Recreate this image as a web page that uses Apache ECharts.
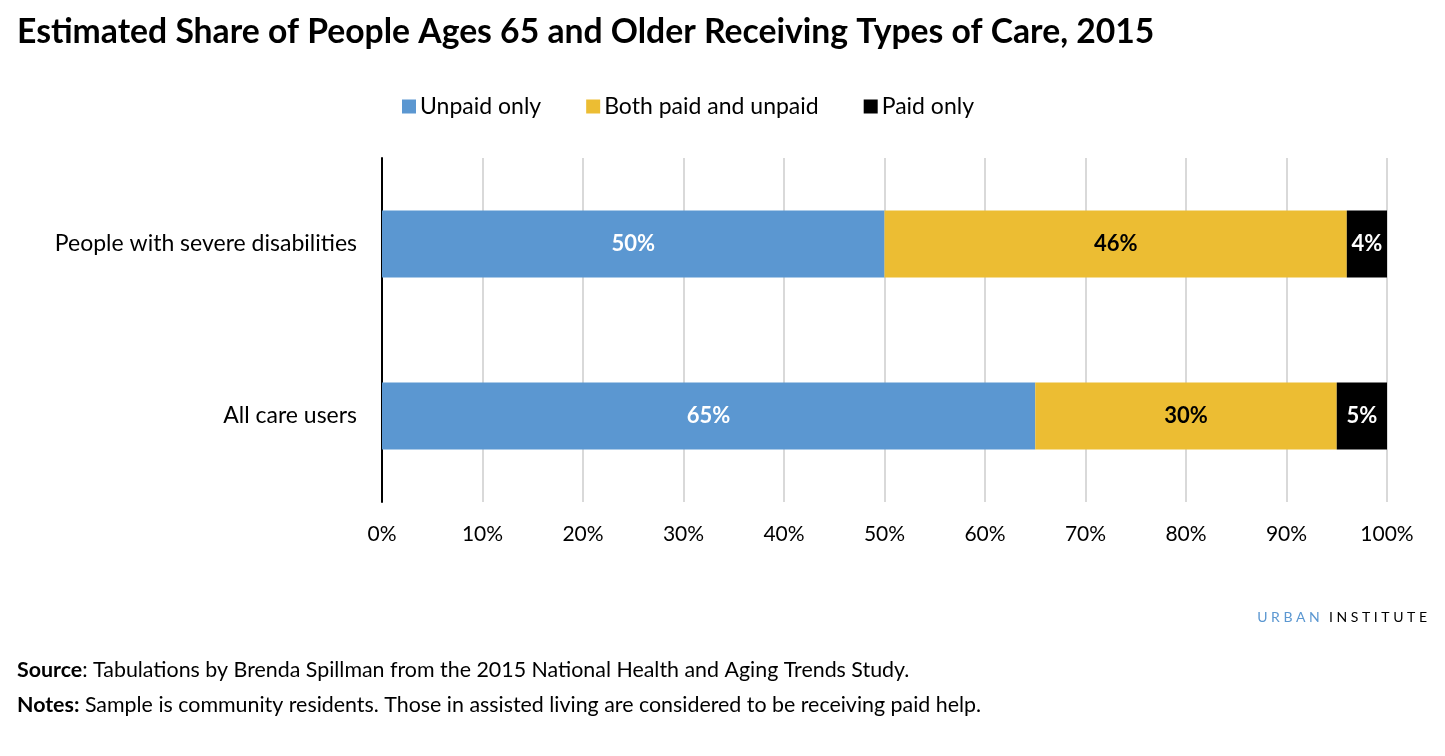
<!DOCTYPE html>
<html>
<head>
<meta charset="utf-8">
<script src="https://cdn.jsdelivr.net/npm/echarts@6/dist/echarts.min.js"></script>
<style>html,body{margin:0;padding:0;background:#fff;}#chart{width:1445px;height:756px;}</style>
</head>
<body>
<div id="chart"></div>
<script>
const categories = ['All care users', 'People with severe disabilities'];
const unpaidOnly = [65, 50];
const bothPaidUnpaid = [30, 46];
const paidOnly = [5, 4];
const seriesNames = ['Unpaid only', 'Both paid and unpaid', 'Paid only'];

const FONT = 'Lato';
const chart = echarts.init(document.getElementById('chart'));

function labelCfg(color) {
  return {
    show: true, position: 'inside', color: color, fontFamily: FONT,
    fontWeight: 'bold', fontSize: 22, formatter: p => p.value + '%'
  };
}

const footStyle = {
  fontSize: 21.4, color: '#000', fontFamily: FONT, fontWeight: 'normal',
  rich: { b: { fontWeight: 'bold', fontSize: 21.4, fontFamily: FONT, color: '#000' } }
};

chart.setOption({
  animation: false,
  textStyle: { fontFamily: FONT },
  title: [
    { text: 'Estimated Share of People Ages 65 and Older Receiving Types of Care, 2015',
      left: 17, top: 15, padding: 0,
      textStyle: { fontFamily: FONT, fontWeight: 'bold', fontSize: 33.7, color: '#000' } },
    { text: '{a|U R B A N}  {b|I N S T I T U T E}', right: 13, top: 603,
      textStyle: { fontWeight: 'normal', rich: { a: { color: '#5b97d1', fontSize: 14, fontFamily: FONT }, b: { color: '#000', fontSize: 14, fontFamily: FONT } } } },
    { text: '{b|Source}: Tabulations by Brenda Spillman from the 2015 National Health and Aging Trends Study.',
      left: 17, top: 660, padding: 0, textStyle: footStyle },
    { text: '{b|Notes:} Sample is community residents. Those in assisted living are considered to be receiving paid help.',
      left: 17, top: 695, padding: 0, textStyle: footStyle }
  ],
  legend: {
    top: 95, left: 402, itemWidth: 14, itemHeight: 14, itemGap: 45, icon: 'rect', padding: 0,
    textStyle: { fontSize: 23, color: '#000', fontFamily: FONT, padding: [0, 0, 0, -1] },
    data: seriesNames
  },
  grid: { left: 382, right: 58, top: 158, bottom: 254 },
  xAxis: {
    type: 'value', min: 0, max: 100, interval: 10,
    axisLabel: { formatter: '{value}%', fontSize: 21, color: '#000', fontFamily: FONT, margin: 22 },
    splitLine: { show: true, lineStyle: { color: '#d9d9d9', width: 2 } },
    axisLine: { show: false }, axisTick: { show: false }
  },
  yAxis: {
    type: 'category', data: categories,
    axisLine: { show: true, lineStyle: { color: '#000', width: 2 } },
    axisTick: { show: false },
    axisLabel: { fontSize: 23, color: '#000', fontFamily: FONT, margin: 25 }
  },
  series: [
    { name: seriesNames[0], type: 'bar', stack: 'a', data: unpaidOnly, barWidth: '39%',
      itemStyle: { color: '#5b97d1' }, label: labelCfg('#fff') },
    { name: seriesNames[1], type: 'bar', stack: 'a', data: bothPaidUnpaid, barWidth: '39%',
      itemStyle: { color: '#ecbd33' }, label: labelCfg('#000') },
    { name: seriesNames[2], type: 'bar', stack: 'a', data: paidOnly, barWidth: '39%',
      itemStyle: { color: '#000' }, label: labelCfg('#fff') }
  ]
});
</script>
</body>
</html>
